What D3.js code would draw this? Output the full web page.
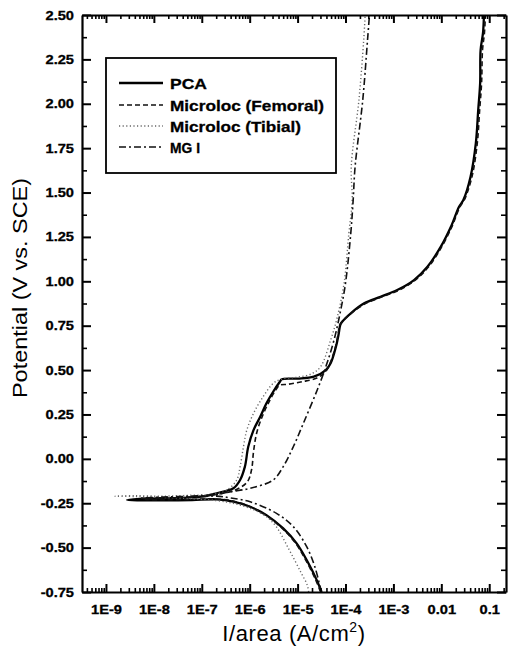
<!DOCTYPE html>
<html>
<head>
<meta charset="utf-8">
<script src="https://cdn.jsdelivr.net/npm/d3@7"></script>
<style>
  html, body { margin: 0; padding: 0; background: #fff; overflow: hidden; }
  svg { display: block; }
</style>
</head>
<body>
<svg id="chart" width="508" height="648"></svg>
<script>
// ---------- DATA (log10 of current density in A/cm², potential in V vs SCE) ----------
const seriesNames = ["PCA", "Microloc (Femoral)", "Microloc (Tibial)", "MG I"];

const pcaLogI = [-4.50,-4.60,-4.81,-5.02,-5.30,-5.65,-5.99,-6.34,-6.69,-7.2,-7.8,-8.3,-8.56,
  -8.3,-7.8,-7.3,-6.9,-6.69,-6.34,-6.20,-6.10,-6.03,-5.92,-5.78,-5.65,-5.51,-5.37,-5.33,-5.0,-4.66,
  -4.41,-4.31,-4.20,-4.14,-4.11,-4.07,-3.89,-3.61,-3.27,-2.92,-2.57,-2.29,-2.01,-1.80,-1.63,-1.54,
  -1.39,-1.28,-1.23,-1.19,-1.18,-1.13,-1.11];
const pcaV = [-0.75,-0.683,-0.57,-0.476,-0.392,-0.317,-0.27,-0.241,-0.228,-0.232,-0.234,-0.234,-0.232,
  -0.226,-0.222,-0.218,-0.208,-0.194,-0.166,-0.119,-0.044,0.068,0.162,0.237,0.313,0.378,0.434,0.448,0.452,0.463,
  0.50,0.538,0.631,0.707,0.754,0.772,0.820,0.876,0.913,0.951,1.007,1.082,1.195,1.307,1.420,1.458,
  1.589,1.777,1.965,2.115,2.303,2.399,2.5];

const femoralLogI = [-4.52,-4.62,-4.83,-5.04,-5.32,-5.67,-6.0,-6.35,-6.7,-7.2,-7.8,-8.2,
  -7.8,-7.2,-6.69,-6.3,-6.05,-5.96,-5.92,-5.85,-5.72,-5.58,-5.45,-5.37,-5.2,-4.9,-4.6,-4.42,
  -4.32,-4.21,-4.15,-4.12,-3.9,-3.6,-3.26,-2.9,-2.55,-2.27,-1.99,-1.78,-1.61,-1.52,
  -1.36,-1.25,-1.20,-1.16,-1.14,-1.10,-1.08];
const femoralV = [-0.75,-0.683,-0.57,-0.476,-0.392,-0.317,-0.268,-0.238,-0.226,-0.228,-0.23,-0.228,
  -0.222,-0.215,-0.20,-0.175,-0.13,-0.06,0.04,0.15,0.25,0.33,0.39,0.415,0.42,0.435,0.455,0.49,
  0.54,0.63,0.71,0.755,0.815,0.872,0.91,0.948,1.005,1.08,1.195,1.307,1.42,1.458,
  1.589,1.777,1.965,2.115,2.303,2.399,2.5];

const tibialLogI = [-4.77,-4.80,-4.93,-5.18,-5.45,-5.65,-5.99,-6.34,-6.7,-7.2,-7.8,-8.4,-8.81,
  -8.4,-7.8,-7.2,-6.8,-6.5,-6.27,-6.20,-6.13,-6.06,-5.92,-5.72,-5.51,-5.35,-5.0,-4.7,
  -4.52,-4.31,-4.17,-4.03,-3.93,-3.86,-3.88,-3.72,-3.62,-3.59];
const tibialV = [-0.75,-0.71,-0.64,-0.51,-0.38,-0.326,-0.279,-0.251,-0.235,-0.225,-0.218,-0.212,-0.21,
  -0.208,-0.21,-0.205,-0.2,-0.18,-0.119,-0.044,0.068,0.162,0.256,0.35,0.425,0.448,0.46,0.48,
  0.519,0.669,0.80,0.989,1.27,1.458,1.645,2.021,2.36,2.5];

const mgLogI = [-4.50,-4.53,-4.64,-4.81,-5.09,-5.44,-5.99,-6.4,-6.69,-7.2,-7.8,-8.3,
  -7.8,-7.2,-6.69,-6.4,-5.99,-5.51,-5.30,-5.09,-4.88,-4.59,-4.41,-4.24,-4.10,-4.00,-3.89,-3.84,
  -3.80,-3.64,-3.54,-3.50];
const mgV = [-0.75,-0.72,-0.608,-0.495,-0.382,-0.307,-0.242,-0.22,-0.21,-0.215,-0.22,-0.222,
  -0.215,-0.21,-0.2,-0.185,-0.166,-0.119,-0.044,0.068,0.200,0.388,0.519,0.669,0.838,0.989,1.27,1.458,
  1.645,2.021,2.36,2.5];

const xTickValues = [1e-9, 1e-8, 1e-7, 1e-6, 1e-5, 1e-4, 1e-3, 0.01, 0.1];
const xTickLabels = ["1E-9", "1E-8", "1E-7", "1E-6", "1E-5", "1E-4", "1E-3", "0.01", "0.1"];
const yTickValues = [-0.75,-0.5,-0.25,0,0.25,0.5,0.75,1,1.25,1.5,1.75,2,2.25,2.5];
const yTickLabels = ["-0.75","-0.50","-0.25","0.00","0.25","0.50","0.75","1.00","1.25","1.50","1.75","2.00","2.25","2.50"];

// ---------- LAYOUT ----------
const L = 82, R = 506, T = 15, B = 592;
const svg = d3.select("#chart");
const FONT = "'Liberation Sans', Arial, Helvetica, sans-serif";

const x = d3.scaleLog().domain([Math.pow(10, -9.5), Math.pow(10, -0.65)]).range([L, R]);
const y = d3.scaleLinear().domain([-0.75, 2.5]).range([B, T]);

const series = [
  { name: seriesNames[0], logI: pcaLogI, v: pcaV, width: 2.3, dash: null, color: "#000" },
  { name: seriesNames[1], logI: femoralLogI, v: femoralV, width: 1.6, dash: "5,3", color: "#111" },
  { name: seriesNames[2], logI: tibialLogI, v: tibialV, width: 1.4, dash: "1.2,2.4", color: "#666" },
  { name: seriesNames[3], logI: mgLogI, v: mgV, width: 1.6, dash: "7,3,2,3", color: "#111" }
];

const line = d3.line()
  .x(d => x(Math.pow(10, d[0])))
  .y(d => y(d[1]))
  .curve(d3.curveCatmullRom.alpha(0.5));

svg.append("defs").append("clipPath").attr("id", "clip")
  .append("rect").attr("x", L).attr("y", T).attr("width", R - L).attr("height", B - T);

const curves = svg.append("g").attr("clip-path", "url(#clip)");
series.forEach(s => {
  const pts = s.logI.map((li, i) => [li, s.v[i]]);
  curves.append("path")
    .attr("d", line(pts))
    .attr("fill", "none")
    .attr("stroke", s.color)
    .attr("stroke-width", s.width)
    .attr("stroke-dasharray", s.dash)
    .attr("stroke-linejoin", "round");
});

// ---------- AXES ----------
const minorX = [];
for (let e = -10; e <= -1; e++) {
  for (let k = 2; k <= 9; k++) {
    const v = k * Math.pow(10, e);
    if (v > x.domain()[0] && v < x.domain()[1]) minorX.push(v);
  }
}
const minorY = d3.range(-0.625, 2.5, 0.25);

function styleAxis(g) {
  g.selectAll(".domain").attr("stroke", "#000").attr("stroke-width", 2.2);
  g.selectAll(".tick line").attr("stroke", "#000").attr("stroke-width", 2);
}
function styleMinor(g) {
  g.select(".domain").remove();
  g.selectAll(".tick line").attr("stroke", "#000").attr("stroke-width", 1.6);
}

// minor ticks
svg.append("g").attr("transform", `translate(0,${B})`)
  .call(d3.axisBottom(x).tickValues(minorX).tickFormat("").tickSizeInner(-4).tickSizeOuter(0))
  .call(styleMinor);
svg.append("g").attr("transform", `translate(0,${T})`)
  .call(d3.axisTop(x).tickValues(minorX).tickFormat("").tickSizeInner(-4).tickSizeOuter(0))
  .call(styleMinor);
svg.append("g").attr("transform", `translate(${L},0)`)
  .call(d3.axisLeft(y).tickValues(minorY).tickFormat("").tickSizeInner(-5).tickSizeOuter(0))
  .call(styleMinor);
svg.append("g").attr("transform", `translate(${R},0)`)
  .call(d3.axisRight(y).tickValues(minorY).tickFormat("").tickSizeInner(-5).tickSizeOuter(0))
  .call(styleMinor);

// major axes
const gx = svg.append("g").attr("transform", `translate(0,${B})`)
  .call(d3.axisBottom(x).tickValues(xTickValues)
    .tickFormat((d, i) => xTickLabels[i]).tickSizeInner(-8).tickSizeOuter(0).tickPadding(13));
styleAxis(gx);
const gt = svg.append("g").attr("transform", `translate(0,${T})`)
  .call(d3.axisTop(x).tickValues(xTickValues).tickFormat("").tickSizeInner(-8).tickSizeOuter(0));
styleAxis(gt);
const gy = svg.append("g").attr("transform", `translate(${L},0)`)
  .call(d3.axisLeft(y).tickValues(yTickValues)
    .tickFormat((d, i) => yTickLabels[i]).tickSizeInner(-9).tickSizeOuter(0).tickPadding(8));
styleAxis(gy);
const gr = svg.append("g").attr("transform", `translate(${R},0)`)
  .call(d3.axisRight(y).tickValues(yTickValues).tickFormat("").tickSizeInner(-9).tickSizeOuter(0));
styleAxis(gr);

// tick label styling (bold, slightly wide)
[gx, gy].forEach(g => {
  g.selectAll(".tick text")
    .attr("font-family", FONT)
    .attr("font-size", 12.5)
    .attr("font-weight", "bold")
    .attr("fill", "#000")
    .attr("stroke", "#000")
    .attr("stroke-width", 0.3)
    .each(function () {
      const w = this.getComputedTextLength();
      d3.select(this).attr("textLength", w * 1.17).attr("lengthAdjust", "spacingAndGlyphs");
    });
});

// ---------- AXIS TITLES ----------
svg.append("text")
  .attr("transform", "translate(27,288) rotate(-90)")
  .attr("text-anchor", "middle")
  .attr("font-family", FONT)
  .attr("font-size", 21)
  .attr("textLength", 220)
  .attr("lengthAdjust", "spacingAndGlyphs")
  .text("Potential (V vs. SCE)");

const xt = svg.append("text")
  .attr("x", 294).attr("y", 641)
  .attr("text-anchor", "middle")
  .attr("font-family", FONT)
  .attr("font-size", 22)
  .attr("letter-spacing", 0.6);
xt.append("tspan").text("I/area (A/cm");
xt.append("tspan").attr("font-size", 14).attr("dy", -9).text("2");
xt.append("tspan").attr("dy", 9).text(")");

// ---------- LEGEND ----------
const lg = svg.append("g");
lg.append("rect")
  .attr("x", 106).attr("y", 58).attr("width", 230).attr("height", 115)
  .attr("fill", "#fff").attr("stroke", "#000").attr("stroke-width", 1.8);
const legendRowY = [83, 105, 126, 147];
const legendTextW = [37, 154, 131, 30];
series.forEach((s, i) => {
  lg.append("line")
    .attr("x1", 119).attr("x2", 163)
    .attr("y1", legendRowY[i]).attr("y2", legendRowY[i])
    .attr("stroke", s.color).attr("stroke-width", s.width)
    .attr("stroke-dasharray", s.dash);
  lg.append("text")
    .attr("x", 170).attr("y", legendRowY[i] + 5.5)
    .attr("font-family", FONT).attr("font-size", 15.5).attr("font-weight", "bold")
    .attr("stroke", "#000").attr("stroke-width", 0.3)
    .attr("textLength", legendTextW[i]).attr("lengthAdjust", "spacingAndGlyphs")
    .text(s.name);
});
</script>
</body>
</html>
